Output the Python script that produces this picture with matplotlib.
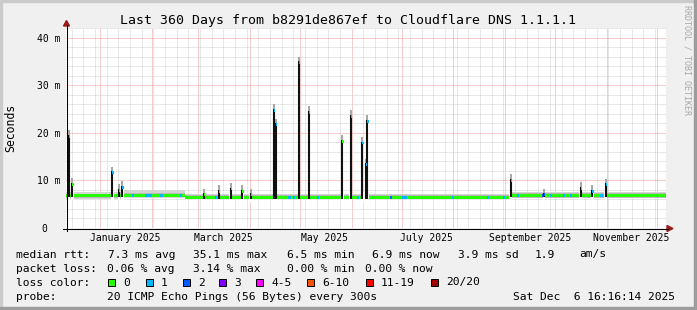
import pandas as pd
import matplotlib
matplotlib.use("Agg")
import matplotlib.pyplot as plt
import matplotlib.dates as mdates
from matplotlib.ticker import MultipleLocator, NullFormatter
from matplotlib.patches import Rectangle, Polygon
from matplotlib.lines import Line2D

W, H = 697, 310
MONO = "DejaVu Sans Mono"

t_start = pd.Timestamp("2024-12-11 16:16:14")
t_end = pd.Timestamp("2025-12-06 16:16:14")

# flat parts of the median rtt (ms) and the smoke band around it
seg_start = ["2024-12-11 16:16", "2025-01-14", "2025-02-21", "2025-09-04"]
seg_end = ["2025-01-14", "2025-02-21", "2025-09-04", "2025-12-06 16:16"]
seg_median = [6.8, 6.9, 6.5, 6.85]
seg_low = [6.2, 6.3, 6.0, 6.3]
seg_high = [7.5, 8.0, 7.2, 7.5]

# short spikes of the median (ms) and packets lost at the top
spike_date = ["2024-12-13", "2024-12-15", "2025-01-08", "2025-01-12", "2025-01-14",
              "2025-03-04", "2025-03-13", "2025-03-20", "2025-03-27", "2025-04-01",
              "2025-04-15", "2025-04-16", "2025-04-30", "2025-05-06", "2025-05-26",
              "2025-05-31", "2025-06-07", "2025-06-09", "2025-06-10", "2025-09-04",
              "2025-09-24", "2025-10-16", "2025-10-23", "2025-10-31"]
spike_top = [19.6, 9.5, 11.9, 8.2, 8.9,
             7.3, 8.0, 8.5, 8.0, 7.3,
             25.0, 22.0, 35.1, 24.7, 18.5,
             23.8, 18.2, 13.6, 22.7, 10.3,
             7.3, 8.7, 8.0, 9.4]
spike_loss = [1, 0, 1, 0, 1,
              0, 0, 0, 0, 0,
              1, 1, 1, 1, 0,
              1, 1, 1, 1, 1,
              2, 0, 1, 1]

# stretches on the baseline where pings were lost
loss_start = ["2025-01-20", "2025-01-28", "2025-02-06", "2025-02-18", "2025-03-11",
              "2025-04-24", "2025-04-27", "2025-05-11", "2025-06-04", "2025-06-24",
              "2025-07-01", "2025-07-31", "2025-08-21", "2025-08-31", "2025-09-08",
              "2025-09-23", "2025-09-28", "2025-10-06", "2025-10-10", "2025-10-28"]
loss_days = [1.2, 4.0, 1.8, 1.2, 1.2,
             1.8, 1.2, 1.2, 1.2, 1.2,
             3.5, 1.2, 1.2, 1.2, 1.2,
             1.2, 1.2, 1.2, 1.2, 1.8]
loss_count = [1, 1, 1, 1, 1,
              1, 1, 1, 1, 2,
              1, 1, 1, 1, 1,
              2, 1, 1, 1, 1]

loss_keys = [0, 1, 2, 3, 5, 10, 19, 20]
loss_labels = ["0", "1", "2", "3", "4-5", "6-10", "11-19", "20/20"]
loss_colors = ["#26ff00", "#00b8ff", "#0059ff", "#7e00ff", "#ff00ff",
               "#ff5500", "#ff0000", "#a10000"]
loss_col = dict(zip(loss_keys, loss_colors))

y_ticks = [0, 10, 20, 30, 40]
y_labels = ["0  ", "10 m", "20 m", "30 m", "40 m"]
label_months = ["2025-01-01", "2025-03-01", "2025-05-01", "2025-07-01",
                "2025-09-01", "2025-11-01"]

title = "Last 360 Days from b8291de867ef to Cloudflare DNS 1.1.1.1"
rtt_stats = ["7.3 ms avg", "35.1 ms max", "6.5 ms min", "6.9 ms now",
             "3.9 ms sd", "1.9", "am/s"]
loss_stats = ["0.06 % avg", "3.14 % max", "0.00 % min", "0.00 % now"]
probe = "20 ICMP Echo Pings (56 Bytes) every 300s"
stamp = "Sat Dec  6 16:16:14 2025"


def fx(x):
    return x / W


def fy(y):
    return 1 - y / H


def base_at(d):
    d = pd.Timestamp(d)
    for s, e, m in zip(seg_start, seg_end, seg_median):
        if pd.Timestamp(s) <= d < pd.Timestamp(e):
            return m
    return seg_median[-1]


fig = plt.figure(figsize=(W / 100, H / 100), dpi=100, facecolor="#f0f0f0")
ax = fig.add_axes([fx(66), fy(228), 600 / W, 200 / H])
ax.set_facecolor("white")

# smoke and median baseline
for s, e, m, lo, hi in zip(seg_start, seg_end, seg_median, seg_low, seg_high):
    xs = [pd.Timestamp(s), pd.Timestamp(e)]
    ax.fill_between(xs, lo, hi, color="#d4d4d4", lw=0, zorder=2)
    ax.fill_between(xs, m - 0.45, m + 0.45, color="#b8b8b8", lw=0, zorder=2)
    ax.fill_between(xs, m - 0.3, m + 0.3, color=loss_col[0], lw=0, zorder=4)

for s, n, c in zip(loss_start, loss_days, loss_count):
    ax.bar(pd.Timestamp(s), 0.6, bottom=base_at(s) - 0.3, width=n, align="edge",
           color=loss_col[c], lw=0, zorder=4.1)

# spikes
for d, top, c in zip(spike_date, spike_top, spike_loss):
    d = pd.Timestamp(d) + pd.Timedelta(hours=12)
    b = base_at(d)
    ax.bar(d, 2.0, bottom=b - 1.0, width=1.6, color="white", lw=0, zorder=4.2)
    ax.bar(d, 1.4, bottom=top - 0.4, width=1.2, color="#a8a8a8", lw=0, zorder=4.3)
    ax.vlines(d, b - 0.3, top, color="#111111", lw=1.5, zorder=4.5)
    ax.bar(d + pd.Timedelta(hours=8), 0.6, bottom=top - 0.6, width=0.9,
           color=loss_col[c], lw=0, zorder=4.6)

ax.set_xlim(t_start, t_end)
ax.set_ylim(0, 42.1)

# grid
ax.xaxis.set_major_locator(mdates.MonthLocator())
ax.xaxis.set_minor_locator(mdates.WeekdayLocator(byweekday=mdates.SU))
ax.xaxis.set_major_formatter(NullFormatter())
ax.set_yticks(y_ticks)
ax.set_yticklabels(y_labels, family=MONO, fontsize=7)
ax.yaxis.set_minor_locator(MultipleLocator(2))
ax.grid(which="minor", color="#d2d2d2", ls=(0, (1, 1)), lw=0.72)
ax.grid(which="major", color="#f09a9a", ls=(0, (1, 1)), lw=0.72)
ax.set_axisbelow(True)
ax.tick_params(which="both", length=0)
ax.tick_params(axis="y", pad=4.3)
for sp in ax.spines.values():
    sp.set_visible(False)

for m in label_months:
    d = pd.Timestamp(m)
    ax.text(d + pd.Timedelta(days=15), -0.065, d.strftime("%B %Y"),
            transform=ax.get_xaxis_transform(), ha="center", va="baseline",
            family=MONO, fontsize=7)

# axis lines with arrows
arrow = "#9a1c1c"
fig.add_artist(Line2D([fx(63), fx(668)], [fy(228.5), fy(228.5)], color="black", lw=0.75))
fig.add_artist(Line2D([fx(66.5), fx(66.5)], [fy(231), fy(25)], color="black", lw=0.75))
fig.add_artist(Polygon([[fx(667), fy(225.5)], [fx(673), fy(228.5)], [fx(667), fy(231.5)]],
                       closed=True, color=arrow, transform=fig.transFigure))
fig.add_artist(Polygon([[fx(63.5), fy(26)], [fx(66.5), fy(20.5)], [fx(69.5), fy(26)]],
                       closed=True, color=arrow, transform=fig.transFigure))

# texts
fig.text(fx(348), fy(24), title, ha="center", va="baseline", family=MONO, fontsize=9.5)
fig.text(fx(11), fy(128), "Seconds", rotation=90, ha="center", va="center",
         family=MONO, fontsize=8.3)
fig.text(fx(687), fy(60), "RRDTOOL / TOBI OETIKER", rotation=270, ha="center",
         va="center", family=MONO, fontsize=6, color="#a8a8a8")

row1_x = [107.7, 193.3, 286.7, 371.7, 458.3, 535, 579.3]
row2_x = [107.3, 193.3, 286.7, 365]
box_x = [108.3, 145.7, 182.7, 219.3, 256, 307.3, 365.7, 430.7]

fig.text(fx(16), fy(257.5), "median rtt:", family=MONO, fontsize=8.1, va="baseline")
for s, x in zip(rtt_stats, row1_x):
    fig.text(fx(x), fy(257.5), s, family=MONO, fontsize=8.1, va="baseline")
fig.text(fx(16), fy(271.5), "packet loss:", family=MONO, fontsize=8.1, va="baseline")
for s, x in zip(loss_stats, row2_x):
    fig.text(fx(x), fy(271.5), s, family=MONO, fontsize=8.1, va="baseline")
fig.text(fx(16), fy(285.5), "loss color:", family=MONO, fontsize=8.1, va="baseline")
for lab, col, x in zip(loss_labels, loss_colors, box_x):
    fig.add_artist(Rectangle((fx(x), fy(285.5)), 7 / W, 7 / H, facecolor=col,
                             edgecolor="black", lw=0.7, transform=fig.transFigure))
    fig.text(fx(x + 15), fy(285.5), lab, family=MONO, fontsize=8.1, va="baseline")
fig.text(fx(16), fy(299.5), "probe:", family=MONO, fontsize=8.1, va="baseline")
fig.text(fx(107.3), fy(299.5), probe, family=MONO, fontsize=8.1, va="baseline")
fig.text(fx(513), fy(299.5), stamp, family=MONO, fontsize=8.1, va="baseline")

# shaded frame
fig.add_artist(Rectangle((0, fy(2)), 1, 2 / H, color="#cbcbcb", transform=fig.transFigure))
fig.add_artist(Rectangle((0, 0), 2 / W, 1, color="#cbcbcb", transform=fig.transFigure))
fig.add_artist(Rectangle((0, 0), 1, 3 / H, color="#9c9c9c", transform=fig.transFigure))
fig.add_artist(Rectangle((fx(694), 0), 3 / W, 1, color="#9c9c9c", transform=fig.transFigure))

fig.savefig("out.png", dpi=100, facecolor=fig.get_facecolor())
